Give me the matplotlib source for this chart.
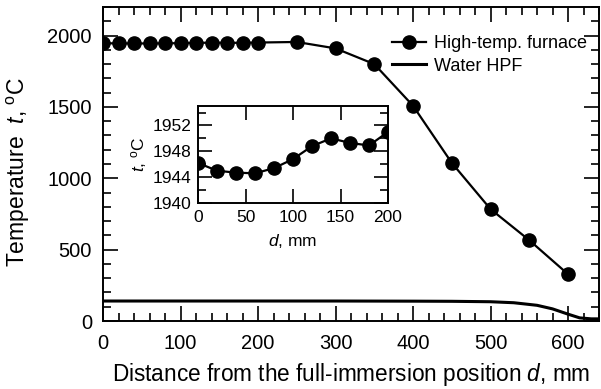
import numpy as np
import matplotlib
matplotlib.use('Agg')
import matplotlib.pyplot as plt
from matplotlib.ticker import MultipleLocator

plt.rcParams['font.family'] = ['Liberation Sans', 'DejaVu Sans']
plt.rcParams['mathtext.fontset'] = 'custom'
plt.rcParams['mathtext.rm'] = 'Liberation Sans'
plt.rcParams['mathtext.it'] = 'Liberation Sans:italic'

# high-temperature furnace
d_furn = [0, 20, 40, 60, 80, 100, 120, 140, 160, 180, 200,
          250, 300, 350, 400, 450, 500, 550, 600]
t_furn = [1946.2, 1945.0, 1944.7, 1944.6, 1945.4, 1946.8, 1948.8, 1950.0,
          1949.3, 1948.9, 1951.0,
          1955, 1910, 1800, 1508, 1108, 784, 566, 328]

# water HPF
d_water = [0, 100, 200, 300, 400, 450, 500, 530, 560, 580, 600, 615, 630, 640]
t_water = [140, 140, 140, 140, 139, 138, 135, 128, 110, 85, 48, 22, 15, 15]

# inset (first 200 mm of the furnace)
d_ins = d_furn[:11]
t_ins = t_furn[:11]

fig = plt.figure(figsize=(6.01, 3.89), dpi=100)
ax = fig.add_axes([0.1714, 0.1748, 0.8253, 0.8072])

ax.plot(d_furn, t_furn, '-o', color='black', lw=1.6, ms=9.5, label='High-temp. furnace')
ax.plot(d_water, t_water, '-', color='black', lw=2.2, label='Water HPF')

ax.set_xlim(0, 640)
ax.set_ylim(0, 2200)
ax.xaxis.set_major_locator(MultipleLocator(100))
ax.xaxis.set_minor_locator(MultipleLocator(20))
ax.yaxis.set_major_locator(MultipleLocator(500))
ax.yaxis.set_minor_locator(MultipleLocator(100))
ax.tick_params(which='both', direction='in', top=True, right=True, width=1.2)
ax.tick_params(which='major', length=11, labelsize=14.5)
ax.tick_params(axis='x', which='major', pad=9)
ax.tick_params(axis='y', which='major', pad=8)
ax.tick_params(which='minor', length=5.8)
for s in ax.spines.values():
    s.set_linewidth(1.4)

ax.set_xlabel('Distance from the full-immersion position $d$, mm', fontsize=16.3,
              labelpad=6)
ax.set_ylabel('Temperature  $t$, $^{\\rm o}$C', fontsize=16.5)
ax.yaxis.set_label_coords(-0.143, 0.475)

ax.legend(loc='upper left', frameon=False, fontsize=13, handlelength=1.9,
          handletextpad=0.4, labelspacing=0.3, bbox_to_anchor=(0.583, 0.91),
          borderaxespad=0, borderpad=0)

ins = fig.add_axes([0.3295, 0.478, 0.3161, 0.2494])
ins.plot(d_ins, t_ins, '-o', color='black', lw=1.6, ms=9.5)
ins.set_xlim(0, 200)
ins.set_ylim(1940, 1955)
ins.xaxis.set_major_locator(MultipleLocator(50))
ins.yaxis.set_major_locator(MultipleLocator(4))
ins.yaxis.set_minor_locator(MultipleLocator(2))
ins.tick_params(which='both', direction='in', top=True, right=True, width=1.2)
ins.tick_params(which='major', length=10, labelsize=12.5, pad=5)
ins.tick_params(which='minor', length=5.5)
for s in ins.spines.values():
    s.set_linewidth(1.4)
ins.set_xlabel('$d$, mm', fontsize=12.5, labelpad=5)
ins.set_ylabel('$t$, $^{\\rm o}$C', fontsize=12.5, labelpad=2)

fig.savefig('out.png', dpi=100)
